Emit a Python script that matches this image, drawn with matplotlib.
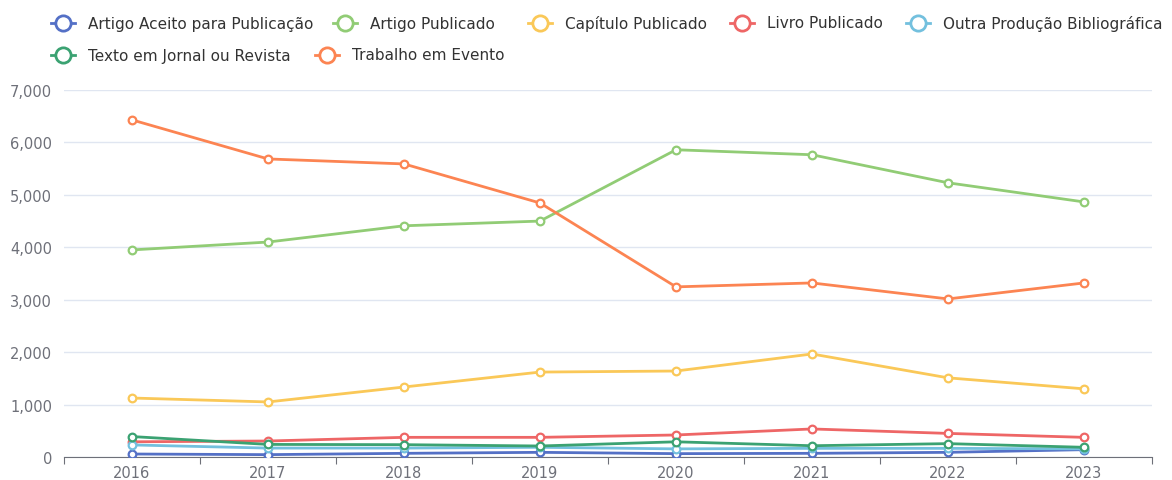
import matplotlib.pyplot as plt
from matplotlib.lines import Line2D
from matplotlib.ticker import FuncFormatter

years = ['2016', '2017', '2018', '2019', '2020', '2021', '2022', '2023']

artigo_aceito = [57, 45, 70, 89, 64, 70, 89, 140]
artigo_publicado = [3950, 4100, 4410, 4500, 5860, 5765, 5230, 4865]
capitulo = [1125, 1050, 1335, 1620, 1640, 1965, 1510, 1300]
livro = [290, 305, 375, 375, 420, 535, 450, 375]
outra = [230, 170, 170, 185, 155, 165, 165, 155]
texto_jornal = [390, 240, 235, 210, 290, 215, 255, 185]
trabalho_evento = [6430, 5685, 5590, 4845, 3245, 3320, 3015, 3320]

series = [
    ('Artigo Aceito para Publicação', artigo_aceito, '#5470c6'),
    ('Artigo Publicado', artigo_publicado, '#91cc75'),
    ('Capítulo Publicado', capitulo, '#fac858'),
    ('Livro Publicado', livro, '#ee6666'),
    ('Outra Produção Bibliográfica', outra, '#73c0de'),
    ('Texto em Jornal ou Revista', texto_jornal, '#3ba272'),
    ('Trabalho em Evento', trabalho_evento, '#fc8452'),
]

W, H = 1172, 481
fig = plt.figure(figsize=(W / 100, H / 100), dpi=100)
ax = fig.add_axes([64 / W, 1 - 458 / H, (1152 - 64) / W, (458 - 91) / H])

x = list(range(len(years)))
for name, vals, col in series:
    ax.plot(x, vals, color=col, lw=2, marker='o', ms=5.5, mfc='white',
            mec=col, mew=1.6, zorder=3)

ax.set_xlim(-0.5, len(years) - 0.5)
ax.set_ylim(0, 7000)
ax.set_yticks(range(0, 7001, 1000))
ax.yaxis.set_major_formatter(FuncFormatter(lambda v, p: f'{int(v):,}'))
ax.grid(axis='y', color='#e0e6f1', lw=1)
ax.set_axisbelow(True)
ax.tick_params(axis='y', length=0, colors='#6e7079', labelsize=10.5, pad=8.5)

ax.set_xticks([i - 0.5 for i in range(len(years) + 1)])
ax.set_xticklabels([])
ax.set_xticks(x, minor=True)
ax.set_xticklabels(years, minor=True)
ax.tick_params(axis='x', which='major', length=5, color='#6e7079', direction='out')
ax.tick_params(axis='x', which='minor', length=0, colors='#6e7079', labelsize=10.5, pad=6)

for s in ['top', 'right', 'left']:
    ax.spines[s].set_visible(False)
ax.spines['bottom'].set_color('#6e7079')

# legend, laid out like the reference (two rows)
text_x = [88, 370, 565, 767, 943, 88, 352]
rows = [24, 24, 24, 24, 24, 56, 56]
for (name, vals, col), tx, ty in zip(series, text_x, rows):
    yf = 1 - ty / H
    fig.add_artist(Line2D([(tx - 37) / W, (tx - 13) / W], [yf, yf], color=col,
                          lw=2, transform=fig.transFigure))
    fig.add_artist(Line2D([(tx - 25) / W], [yf], marker='o', ms=11, mfc='white',
                          mec=col, mew=2, transform=fig.transFigure))
    fig.text(tx / W, yf, name, ha='left', va='center', fontsize=11, color='#333333')

fig.savefig('out.png', dpi=100)
